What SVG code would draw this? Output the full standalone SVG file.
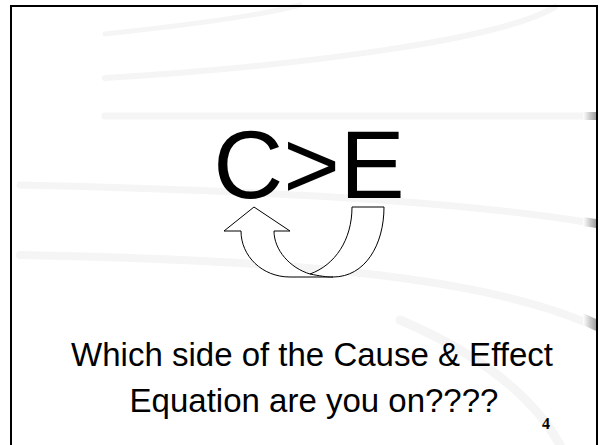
<svg xmlns="http://www.w3.org/2000/svg" width="600" height="445" viewBox="0 0 600 445">
<defs>
<style>
.swoosh{fill:none;stroke:#f5f5f5;stroke-linecap:round}
.arrow{fill:#fff;stroke:#000;stroke-width:1}
.big{font-family:"Liberation Sans",Arial,sans-serif;font-size:97px;fill:#000}
.cap{font-family:"Liberation Sans",Arial,sans-serif;font-size:33px;fill:#000}
.num{font-family:"Liberation Serif","Times New Roman",serif;font-size:16px;font-weight:bold;fill:#000}
</style>
<linearGradient id="tab" x1="0" y1="0" x2="1" y2="0">
<stop offset="0" stop-color="#fff"/>
<stop offset="1" stop-color="#a0a0a0"/>
</linearGradient>
</defs>
<rect x="0" y="0" width="600" height="445" fill="#fff"/>
<g id="background">
<path class="swoosh" stroke-width="5" d="M105,34 C180,26 260,16 300,5"/>
<path class="swoosh" stroke-width="6" d="M105,78 C300,66 500,40 555,7"/>
<path class="swoosh" stroke-width="7" d="M105,116 L585,116"/>
<path class="swoosh" stroke-width="7" d="M20,185 C250,190 450,200 585,222"/>
<path class="swoosh" stroke-width="8" d="M20,255 C300,260 480,278 585,322"/>
<path class="swoosh" stroke-width="9" d="M400,320 C470,350 530,390 560,445"/>
<rect x="583" y="112" width="13" height="8" fill="url(#tab)"/>
<path d="M583,217 L596,219 L596,228 L583,226 Z" fill="url(#tab)"/>
<path d="M583,313 L596,319 L596,331 L583,325 Z" fill="url(#tab)"/>
</g>
<rect x="11" y="6" width="586" height="450" fill="none" stroke="#000" stroke-width="2"/>
<g id="equation">
<text class="big" x="309" y="198" text-anchor="middle">C&gt;E</text>
</g>
<g id="curved-arrow">
<path class="arrow" d="M384,207 C384,245 365,277 333,277 L290,277 C262,277 241,256 241,231 L224,231 L254,207 L290,231 L274,231 C274,250 290,268 310,274 C335,265 352,240 352,207 Z"/>
<path class="arrow" fill="none" d="M310,274 C320,276 326,277 333,277"/>
</g>
<g id="caption">
<text class="cap" x="312" y="366" text-anchor="middle">Which side of the Cause &amp; Effect</text>
<text class="cap" x="314" y="412" text-anchor="middle">Equation are you on????</text>
</g>
<g id="page-number">
<text class="num" x="542" y="429">4</text>
</g>
</svg>
